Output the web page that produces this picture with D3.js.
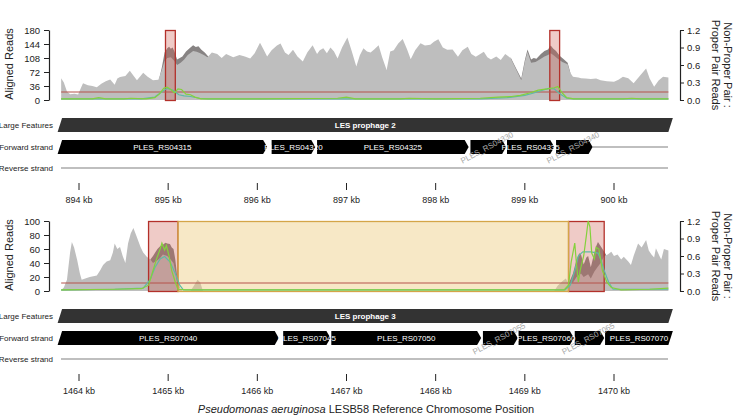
<!DOCTYPE html>
<html>
<head>
<meta charset="utf-8">
<script src="https://cdn.jsdelivr.net/npm/d3@7"></script>
<style>
  body { margin: 0; background: #fff; }
  svg text { font-family: "Liberation Sans", Arial, Helvetica, sans-serif; }
</style>
</head>
<body>
<div class="wrapper"></div>
<script>
// ---- data ----
// coverage of properly paired reads, [kb, reads]
var topProper = [[893.80,56],[893.83,45],[893.865,22],[893.90,15],[893.95,16],[893.99,14],[894.02,30],[894.045,43],[894.10,38],[894.15,36],[894.20,33],[894.25,42],[894.30,48],[894.35,53],[894.40,39],[894.43,55],[894.46,59],[894.52,62],[894.57,75],[894.62,60],[894.65,51],[894.69,62],[894.72,70],[894.77,60],[894.83,51],[894.89,52],[894.93,78],[894.96,100],[894.99,108],[895.03,110],[895.07,100],[895.10,90],[895.14,96],[895.18,104],[895.22,116],[895.28,126],[895.32,124],[895.36,120],[895.40,116],[895.44,110],[895.49,122],[895.55,118],[895.60,108],[895.65,118],[895.73,110],[895.80,116],[895.86,112],[895.92,107],[895.97,120],[896.03,147],[896.07,130],[896.11,112],[896.16,128],[896.22,140],[896.26,145],[896.31,122],[896.35,116],[896.40,129],[896.45,112],[896.51,99],[896.56,122],[896.62,141],[896.67,118],[896.70,128],[896.74,133],[896.78,120],[896.82,135],[896.86,125],[896.90,107],[896.95,135],[897.01,161],[897.06,125],[897.11,86],[897.15,115],[897.19,133],[897.23,125],[897.27,122],[897.31,130],[897.36,141],[897.40,110],[897.45,77],[897.49,125],[897.53,128],[897.58,145],[897.63,157],[897.68,130],[897.72,105],[897.77,128],[897.83,146],[897.88,140],[897.94,142],[897.98,150],[898.03,156],[898.08,135],[898.13,129],[898.19,130],[898.25,111],[898.30,128],[898.36,137],[898.40,118],[898.45,111],[898.50,118],[898.54,124],[898.58,110],[898.62,104],[898.68,112],[898.73,103],[898.78,118],[898.84,108],[898.90,80],[898.96,51],[899.00,98],[899.03,124],[899.07,96],[899.12,98],[899.18,106],[899.22,112],[899.26,116],[899.29,120],[899.33,114],[899.37,106],[899.42,98],[899.48,92],[899.51,70],[899.54,60],[899.60,58],[899.63,56],[899.68,55],[899.74,54],[899.80,55],[899.85,51],[899.92,48],[900.00,47],[900.05,52],[900.10,60],[900.16,56],[900.22,43],[900.30,65],[900.36,81],[900.40,55],[900.45,34],[900.50,50],[900.55,60],[900.61,58]];
// total coverage where it rises above the proper-pair coverage
var topTotal1 = [[894.90,55],[894.93,85],[894.96,122],[894.99,133],[895.01,137],[895.03,132],[895.05,135],[895.07,125],[895.10,104],[895.13,108],[895.16,112],[895.20,125],[895.24,133],[895.28,141],[895.31,136],[895.34,138],[895.37,130],[895.41,122],[895.45,112]];
var topTotal2 = [[898.84,110],[898.90,82],[898.96,55],[899.00,102],[899.03,130],[899.07,104],[899.10,108],[899.13,106],[899.18,118],[899.22,126],[899.26,130],[899.29,140],[899.32,132],[899.35,126],[899.39,114],[899.43,106],[899.48,96],[899.51,71]];
// non-proper : proper ratio lines
var topGreen = [[893.80,0.02],[894.15,0.02],[894.22,0.04],[894.30,0.02],[894.50,0.02],[894.58,0.03],[894.75,0.02],[894.85,0.04],[894.90,0.10],[894.95,0.20],[894.99,0.22],[895.03,0.18],[895.07,0.12],[895.11,0.19],[895.15,0.18],[895.20,0.10],[895.25,0.09],[895.30,0.05],[895.37,0.02],[896.00,0.02],[896.90,0.03],[897.00,0.05],[897.10,0.02],[897.60,0.02],[897.70,0.03],[898.00,0.02],[898.50,0.03],[898.70,0.05],[898.85,0.06],[898.95,0.08],[899.05,0.12],[899.15,0.17],[899.25,0.19],[899.33,0.21],[899.37,0.23],[899.42,0.12],[899.47,0.04],[899.55,0.02],[900.10,0.02],[900.20,0.03],[900.30,0.02],[900.61,0.02]];
var topTeal = [[893.80,0.02],[894.70,0.02],[894.85,0.05],[894.93,0.14],[894.99,0.20],[895.05,0.17],[895.12,0.09],[895.18,0.07],[895.25,0.06],[895.35,0.03],[895.45,0.02],[898.50,0.02],[898.80,0.04],[899.00,0.08],[899.10,0.12],[899.20,0.17],[899.27,0.20],[899.33,0.19],[899.40,0.10],[899.47,0.03],[899.55,0.02],[900.61,0.02]];

var botProper = [[1463.80,1],[1463.83,5],[1463.865,16],[1463.90,55],[1463.92,70],[1463.945,62],[1463.98,44],[1464.01,25],[1464.03,16],[1464.07,18],[1464.12,20],[1464.20,22],[1464.24,30],[1464.27,37],[1464.31,42],[1464.35,44],[1464.38,55],[1464.40,68],[1464.43,60],[1464.46,63],[1464.49,50],[1464.52,40],[1464.55,68],[1464.58,82],[1464.61,90],[1464.64,80],[1464.69,63],[1464.72,55],[1464.76,49],[1464.80,45],[1464.83,40],[1464.88,44],[1464.91,47],[1464.94,52],[1464.99,50],[1465.02,46],[1465.06,40],[1465.08,28],[1465.10,12],[1465.135,3],[1465.16,0],[1465.25,0],[1465.29,8],[1465.33,16],[1465.36,12],[1465.39,0],[1469.33,0],[1469.37,8],[1469.43,15],[1469.46,18],[1469.49,10],[1469.54,12],[1469.58,20],[1469.63,25],[1469.66,20],[1469.71,24],[1469.74,18],[1469.78,28],[1469.82,35],[1469.85,40],[1469.89,50],[1469.93,52],[1469.97,56],[1470.00,50],[1470.04,52],[1470.08,45],[1470.11,49],[1470.16,42],[1470.19,37],[1470.22,50],[1470.27,68],[1470.31,62],[1470.36,73],[1470.39,58],[1470.42,52],[1470.45,48],[1470.47,61],[1470.51,50],[1470.53,45],[1470.56,60],[1470.61,58]];
var botTotal1 = [[1464.80,45],[1464.83,50],[1464.86,56],[1464.88,60],[1464.91,64],[1464.94,66],[1464.97,69],[1464.99,68],[1465.02,67],[1465.04,62],[1465.06,60],[1465.08,45],[1465.10,22],[1465.13,5],[1465.15,0]];
var botTotal2 = [[1469.49,10],[1469.54,25],[1469.58,45],[1469.61,54],[1469.63,52],[1469.66,38],[1469.69,48],[1469.71,50],[1469.74,34],[1469.78,55],[1469.80,64],[1469.82,70],[1469.84,66],[1469.86,62],[1469.89,56],[1469.91,52]];
var botGreen = [[1463.80,0.02],[1464.40,0.03],[1464.70,0.04],[1464.78,0.10],[1464.82,0.30],[1464.87,0.55],[1464.91,0.72],[1464.93,0.82],[1464.96,0.70],[1464.98,0.78],[1465.01,0.60],[1465.04,0.35],[1465.08,0.15],[1465.11,0.03],[1465.20,0.02],[1469.44,0.02],[1469.49,0.10],[1469.52,0.50],[1469.56,0.82],[1469.58,0.45],[1469.60,0.15],[1469.62,0.35],[1469.66,0.60],[1469.69,0.95],[1469.71,1.20],[1469.73,1.10],[1469.75,0.65],[1469.78,0.55],[1469.80,0.75],[1469.83,0.72],[1469.87,0.35],[1469.92,0.15],[1469.97,0.06],[1470.08,0.02],[1470.40,0.03],[1470.61,0.05]];
var botTeal = [[1463.80,0.02],[1464.40,0.03],[1464.72,0.05],[1464.80,0.20],[1464.85,0.40],[1464.91,0.55],[1464.96,0.59],[1465.02,0.50],[1465.08,0.30],[1465.13,0.10],[1465.17,0.02],[1469.45,0.02],[1469.51,0.10],[1469.56,0.35],[1469.60,0.60],[1469.65,0.67],[1469.74,0.67],[1469.82,0.65],[1469.85,0.55],[1469.89,0.35],[1469.94,0.15],[1469.99,0.03],[1470.61,0.03]];

var threshold = 0.137; // right axis units

// highlighted regions
var topHlStart = [894.97, 899.28], topHlEnd = [895.08, 899.39], topHlKind = ["red", "red"];
var botHlStart = [1464.78, 1469.49, 1465.11], botHlEnd = [1465.11, 1469.89, 1469.49], botHlKind = ["red", "red", "yellow"];

// genes
var topGeneNames = ["PLES_RS04315","PLES_RS04320","PLES_RS04325","PLES_RS04330","PLES_RS04335","PLES_RS04340"];
var topGeneStart = [893.60, 896.16, 896.67, 898.39, 898.80, 899.35];
var topGeneEnd   = [896.11, 896.65, 898.37, 898.79, 899.33, 899.76];
var botGeneNames = ["PLES_RS07040","PLES_RS07045","PLES_RS07050","PLES_RS07055","PLES_RS07060","PLES_RS07065","PLES_RS07070"];
var botGeneStart = [1463.60, 1466.29, 1466.83, 1468.53, 1468.93, 1469.56, 1469.90];
var botGeneEnd   = [1466.24, 1466.82, 1468.51, 1468.92, 1469.55, 1469.89, 1470.90];

var featureNames = ["LES prophage 2", "LES prophage 3"];
var featureStart = [893.0, 1463.0], featureEnd = [901.5, 1471.5];

var leftTicksTop = [0, 36, 72, 108, 144, 180];
var leftTicksBot = [0, 20, 40, 60, 80, 100];
var rightTicks = [0, 0.3, 0.6, 0.9, 1.2];
var kbTicksTop = [894, 895, 896, 897, 898, 899, 900];
var kbTicksBot = [1464, 1465, 1466, 1467, 1468, 1469, 1470];

// ---- drawing ----
var width = 736, height = 416;
var svg = d3.select(".wrapper").append("svg")
    .attr("width", width)
    .attr("height", height);

var lightGrey = "#bebebe", darkGrey = "#878383",
    green = "#84d13c", teal = "#5fbaa6";

var panels = [
  { off: 0, base: 894, view: [893.76, 900.66], leftTicks: leftTicksTop,
    proper: topProper, totals: [topTotal1, topTotal2], green: topGreen, teal: topTeal,
    hlStart: topHlStart, hlEnd: topHlEnd, hlKind: topHlKind,
    geneNames: topGeneNames, geneStart: topGeneStart, geneEnd: topGeneEnd,
    feature: 0, kbTicks: kbTicksTop },
  { off: 191, base: 1464, view: [1463.76, 1470.66], leftTicks: leftTicksBot,
    proper: botProper, totals: [botTotal1, botTotal2], green: botGreen, teal: botTeal,
    hlStart: botHlStart, hlEnd: botHlEnd, hlKind: botHlKind,
    geneNames: botGeneNames, geneStart: botGeneStart, geneEnd: botGeneEnd,
    feature: 1, kbTicks: kbTicksBot }
];

panels.forEach(drawPanel);

// shared x-axis title
var title = svg.append("text")
    .attr("x", 366).attr("y", 413)
    .attr("text-anchor", "middle")
    .style("font-size", "11px")
    .attr("fill", "#222");
title.append("tspan").style("font-style", "italic").text("Pseudomonas aeruginosa");
title.append("tspan").text(" LESB58 Reference Chromosome Position");

function drawPanel(p) {
  var off = p.off;
  var g = svg.append("g");

  var x = d3.scaleLinear().domain([p.base, p.base + 6]).range([79, 614]);
  var yL = d3.scaleLinear().domain([0, d3.max(p.leftTicks)]).range([100 + off, 30 + off]);
  var yR = d3.scaleLinear().domain([0, 1.2]).range([100 + off, 30 + off]);

  var area = d3.area()
      .x(function(d) { return x(d[0]); })
      .y0(yL(0))
      .y1(function(d) { return yL(d[1]); });

  // total coverage (dark) under the proper-pair coverage (light)
  p.totals.forEach(function(t) {
    g.append("path").datum(t).attr("d", area).attr("fill", darkGrey);
  });
  g.append("path").datum(p.proper).attr("d", area).attr("fill", lightGrey);

  // highlighted regions
  var hl = p.hlStart.map(function(s, i) { return { s: s, e: p.hlEnd[i], k: p.hlKind[i] }; });
  g.selectAll(".hl")
      .data(hl)
    .enter().append("rect")
      .attr("x", function(d) { return x(d.s); })
      .attr("width", function(d) { return x(d.e) - x(d.s); })
      .attr("y", yL.range()[1] + 0.5)
      .attr("height", yL.range()[0] - yL.range()[1])
      .attr("fill", function(d) { return d.k == "red" ? "rgba(205,92,80,0.32)" : "rgba(236,200,120,0.42)"; })
      .attr("stroke", function(d) { return d.k == "red" ? "#b3302a" : "#d4a548"; })
      .attr("stroke-width", 1.3);

  // threshold line
  g.append("line")
      .attr("x1", x(p.proper[0][0])).attr("x2", x(p.proper[p.proper.length - 1][0]))
      .attr("y1", yR(threshold)).attr("y2", yR(threshold))
      .attr("stroke", "#b5524a").attr("stroke-width", 1);

  var line = d3.line()
      .x(function(d) { return x(d[0]); })
      .y(function(d) { return yR(d[1]); });
  g.append("path").datum(p.teal).attr("d", line)
      .attr("fill", "none").attr("stroke", teal).attr("stroke-width", 1.2);
  g.append("path").datum(p.green).attr("d", line)
      .attr("fill", "none").attr("stroke", green).attr("stroke-width", 1.2);

  // axes
  var axL = g.append("g").attr("transform", "translate(49,0)")
      .call(d3.axisLeft(yL).tickValues(p.leftTicks).tickSize(5).tickSizeOuter(0).tickPadding(4));
  var axR = g.append("g").attr("transform", "translate(680,0)")
      .call(d3.axisRight(yR).tickValues(rightTicks).tickSize(4).tickSizeOuter(0).tickPadding(3)
        .tickFormat(d3.format(".1f")));
  [axL, axR].forEach(function(a) {
    a.selectAll("text").style("font-size", "9.5px").attr("fill", "#222");
    a.select(".domain").attr("stroke", "#222").attr("stroke-width", 1.2);
    a.selectAll(".tick line").attr("stroke", "#222");
  });

  g.append("text")
      .attr("transform", "translate(13," + (64 + off) + ") rotate(-90)")
      .attr("text-anchor", "middle")
      .style("font-size", "11px").attr("fill", "#222")
      .text("Aligned Reads");
  g.append("text")
      .attr("transform", "translate(724," + (65 + off) + ") rotate(90)")
      .attr("text-anchor", "middle")
      .style("font-size", "11px").attr("fill", "#222")
      .text("Non-Proper Pair :");
  g.append("text")
      .attr("transform", "translate(712," + (65 + off) + ") rotate(90)")
      .attr("text-anchor", "middle")
      .style("font-size", "11px").attr("fill", "#222")
      .text("Proper Pair Reads");

  // ---- gene track ----
  var v0 = x(p.view[0]), v1 = x(p.view[1]);
  var featTop = 118 + off, featBot = 132 + off;
  var fwdTop = 140 + off, fwdBot = 154 + off, revY = 168 + off;

  var rows = [["Large Features", (featTop + featBot) / 2], ["Forward strand", (fwdTop + fwdBot) / 2], ["Reverse strand", revY]];
  g.selectAll(".rowlab")
      .data(rows)
    .enter().append("text")
      .attr("x", 53).attr("y", function(d) { return d[1] + 3; })
      .attr("text-anchor", "end")
      .style("font-size", "8px").attr("fill", "#222")
      .text(function(d) { return d[0]; });

  // reverse strand baseline
  g.append("line")
      .attr("x1", 61).attr("x2", 668).attr("y1", revY).attr("y2", revY)
      .attr("stroke", "#aaa").attr("stroke-width", 1.5);

  // forward strand baseline beyond last gene
  var lastEnd = x(d3.max(p.geneEnd));
  if (lastEnd < 668) {
    g.append("line")
        .attr("x1", lastEnd).attr("x2", 668)
        .attr("y1", (fwdTop + fwdBot) / 2).attr("y2", (fwdTop + fwdBot) / 2)
        .attr("stroke", "#aaa").attr("stroke-width", 1.5);
  }

  // large feature
  var fs = featureStart[p.feature], fe = featureEnd[p.feature];
  g.append("path")
      .attr("d", shapePath(Math.max(x(fs), v0), Math.min(x(fe), v1), featTop, featBot,
          x(fs) < v0, x(fe) > v1, false))
      .attr("fill", "#333");
  g.append("text")
      .attr("x", (Math.max(x(fs), v0) + Math.min(x(fe), v1)) / 2)
      .attr("y", (featTop + featBot) / 2 + 3)
      .attr("text-anchor", "middle")
      .style("font-size", "8px").style("font-weight", "bold")
      .attr("fill", "#fff")
      .text(featureNames[p.feature]);

  // genes
  var genes = p.geneNames.map(function(n, i) {
    var a = x(p.geneStart[i]), b = x(p.geneEnd[i]);
    return { name: n, x0: Math.max(a, v0), x1: Math.min(b, v1), cl: a < v0, cr: b > v1 };
  });
  g.selectAll(".gene")
      .data(genes)
    .enter().append("path")
      .attr("d", function(d) { return shapePath(d.x0, d.x1, fwdTop, fwdBot, d.cl, d.cr, !d.cr); })
      .attr("fill", "#000");
  genes.forEach(function(d) {
    var cx = (d.x0 + d.x1) / 2, cy = (fwdTop + fwdBot) / 2;
    if (d.x1 - d.x0 >= 40) {
      g.append("text")
          .attr("x", cx).attr("y", cy + 3)
          .attr("text-anchor", "middle")
          .style("font-size", "8px").attr("fill", "#fff")
          .text(d.name);
    } else {
      g.append("text")
          .attr("transform", "translate(" + cx + "," + (cy + 3) + ") rotate(-28)")
          .attr("text-anchor", "middle")
          .style("font-size", "8px").attr("fill", "#a8a8a8")
          .text(d.name);
    }
  });

  // kb ticks
  var tk = g.selectAll(".kb")
      .data(p.kbTicks)
    .enter().append("g")
      .attr("transform", function(d) { return "translate(" + x(d) + ",0)"; });
  tk.append("line")
      .attr("y1", 183 + off).attr("y2", 190 + off)
      .attr("stroke", "#222").attr("stroke-width", 1);
  tk.append("text")
      .attr("y", 203 + off)
      .attr("text-anchor", "middle")
      .style("font-size", "9px").attr("fill", "#222")
      .text(function(d) { return d + " kb"; });
}

function shapePath(x0, x1, yT, yB, slantL, slantR, arrow) {
  var s = 4.5, a = 4, pts = [];
  pts.push([slantL ? x0 + s : x0, yT]);
  if (slantR) {
    pts.push([x1, yT]); pts.push([x1 - s, yB]);
  } else if (arrow) {
    pts.push([x1 - a, yT]); pts.push([x1, (yT + yB) / 2]); pts.push([x1 - a, yB]);
  } else {
    pts.push([x1, yT]); pts.push([x1, yB]);
  }
  pts.push([x0, yB]);
  return d3.line()(pts) + "Z";
}
</script>
</body>
</html>
